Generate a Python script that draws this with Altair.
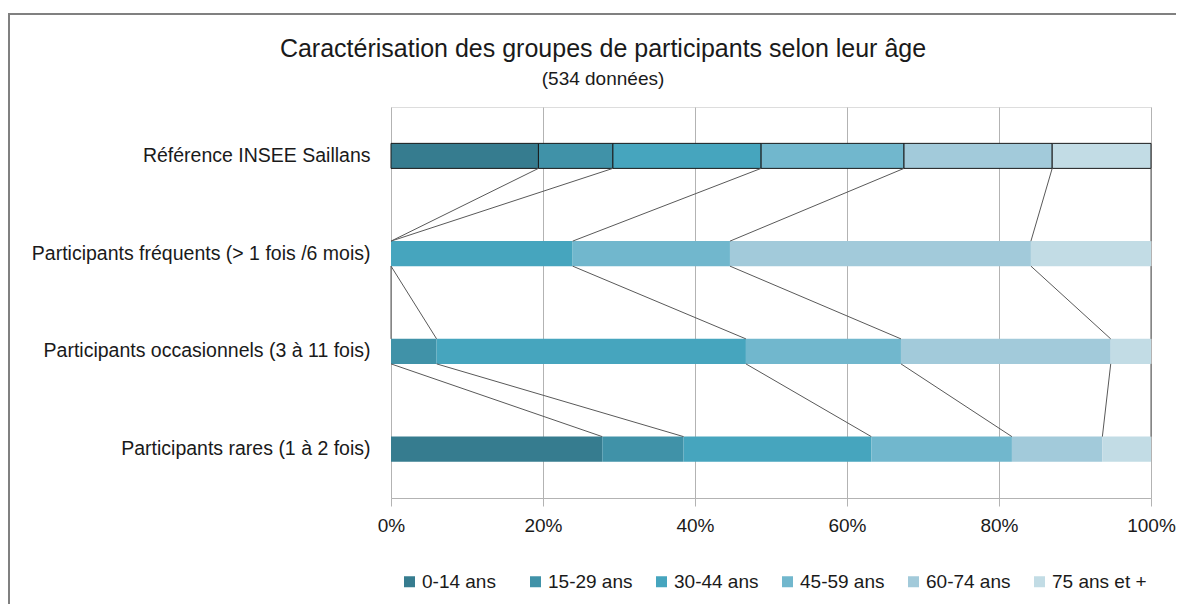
import altair as alt
import pandas as pd

groups = [
    "Référence INSEE Saillans",
    "Participants fréquents (> 1 fois /6 mois)",
    "Participants occasionnels (3 à 11 fois)",
    "Participants rares (1 à 2 fois)",
]
ages = ["0-14 ans", "15-29 ans", "30-44 ans", "45-59 ans", "60-74 ans", "75 ans et +"]
colors = ["#367C8F", "#4092A8", "#46A5BE", "#71B7CD", "#A2CADA", "#C2DCE5"]

ref_vals = [19.4, 9.8, 19.5, 18.8, 19.5, 13.0]
freq_vals = [0.0, 0.0, 23.9, 20.7, 39.6, 15.8]
occ_vals = [0.0, 6.0, 40.7, 20.4, 27.6, 5.3]
rare_vals = [27.8, 10.7, 24.7, 18.5, 11.9, 6.4]
all_vals = [ref_vals, freq_vals, occ_vals, rare_vals]

ticks = [0, 20, 40, 60, 80, 100]
title_text = "Caractérisation des groupes de participants selon leur âge"
subtitle_text = "(534 données)"

F = "Liberation Sans"

rows = []
for g, vals in zip(groups, all_vals):
    for k, (a, v) in enumerate(zip(ages, vals)):
        rows.append({"grp": g, "age": a, "k": k, "pct": v})
df = pd.DataFrame(rows)

# series lines between consecutive bars (cumulative boundaries)
cums = [pd.Series(v).cumsum().tolist() for v in all_vals]
lines = []
for i in range(len(groups) - 1):
    for k in range(len(ages)):
        lines.append({"g1": groups[i], "g2": groups[i + 1],
                      "c1": cums[i][k], "c2": cums[i + 1][k]})
ldf = pd.DataFrame(lines)

yscale = alt.Scale(domain=groups, paddingInner=0.744, paddingOuter=0.372)
xscale = alt.Scale(domain=[0, 100], nice=False)

bars = alt.Chart(df).mark_bar(stroke="#1a1a1a").encode(
    x=alt.X("pct:Q", stack="zero", scale=xscale,
            axis=alt.Axis(values=ticks, labelExpr="datum.value + '%'", title=None,
                          grid=True, gridColor="#b3b3b3", domainColor="#b3b3b3",
                          tickColor="#b3b3b3", tickSize=8, labelFontSize=19,
                          labelFont=F, labelColor="#1a1a1a", labelPadding=10,
                          labelFlush=False)),
    y=alt.Y("grp:N", scale=yscale, sort=groups,
            axis=alt.Axis(title=None, ticks=False, domain=False, labelFontSize=19.5,
                          labelFont=F, labelColor="#1a1a1a", labelPadding=21,
                          labelLimit=500)),
    color=alt.Color("age:N", scale=alt.Scale(domain=ages, range=colors),
                    legend=alt.Legend(orient="none", legendX=9, legendY=465,
                                      direction="horizontal", title=None,
                                      symbolType="square", symbolSize=121,
                                      symbolStrokeWidth=0, labelFontSize=19,
                                      labelFont=F, labelColor="#1a1a1a",
                                      gridAlign="all", columnPadding=9,
                                      labelOffset=3, padding=0)),
    order=alt.Order("k:Q"),
    strokeWidth=alt.condition(alt.datum.grp == groups[0], alt.value(1), alt.value(0)),
)

series = alt.Chart(ldf).mark_rule(color="#595959", strokeWidth=1,
                                  yOffset=12.5, y2Offset=-12.5).encode(
    x=alt.X("c1:Q", scale=xscale),
    x2="c2:Q",
    y=alt.Y("g1:N", scale=yscale, sort=groups, bandPosition=0.5),
    y2=alt.Y2("g2:N", bandPosition=0.5),
)

frame = alt.Chart(alt.Data(values=[{}])).mark_rect(
    fill=None, stroke="#808080", strokeWidth=2).encode(
    x=alt.value(-382), x2=alt.value(800), y=alt.value(-93), y2=alt.value(520))

chart = alt.layer(frame, bars, series).properties(
    width=760, height=391,
    title=alt.TitleParams(text=title_text, subtitle=subtitle_text, font=F,
                          fontSize=25, fontWeight="normal", subtitleFont=F,
                          subtitleFontSize=19, color="#1a1a1a",
                          subtitleColor="#1a1a1a", anchor="middle", dx=-168,
                          offset=-76, subtitlePadding=8),
    autosize=alt.AutoSizeParams(type="none"),
    padding={"left": 383, "top": 99, "right": 25, "bottom": 106},
).configure_view(stroke=None).configure(background="white")

chart.save("out.html", embed_options={"renderer": "svg", "actions": False})
